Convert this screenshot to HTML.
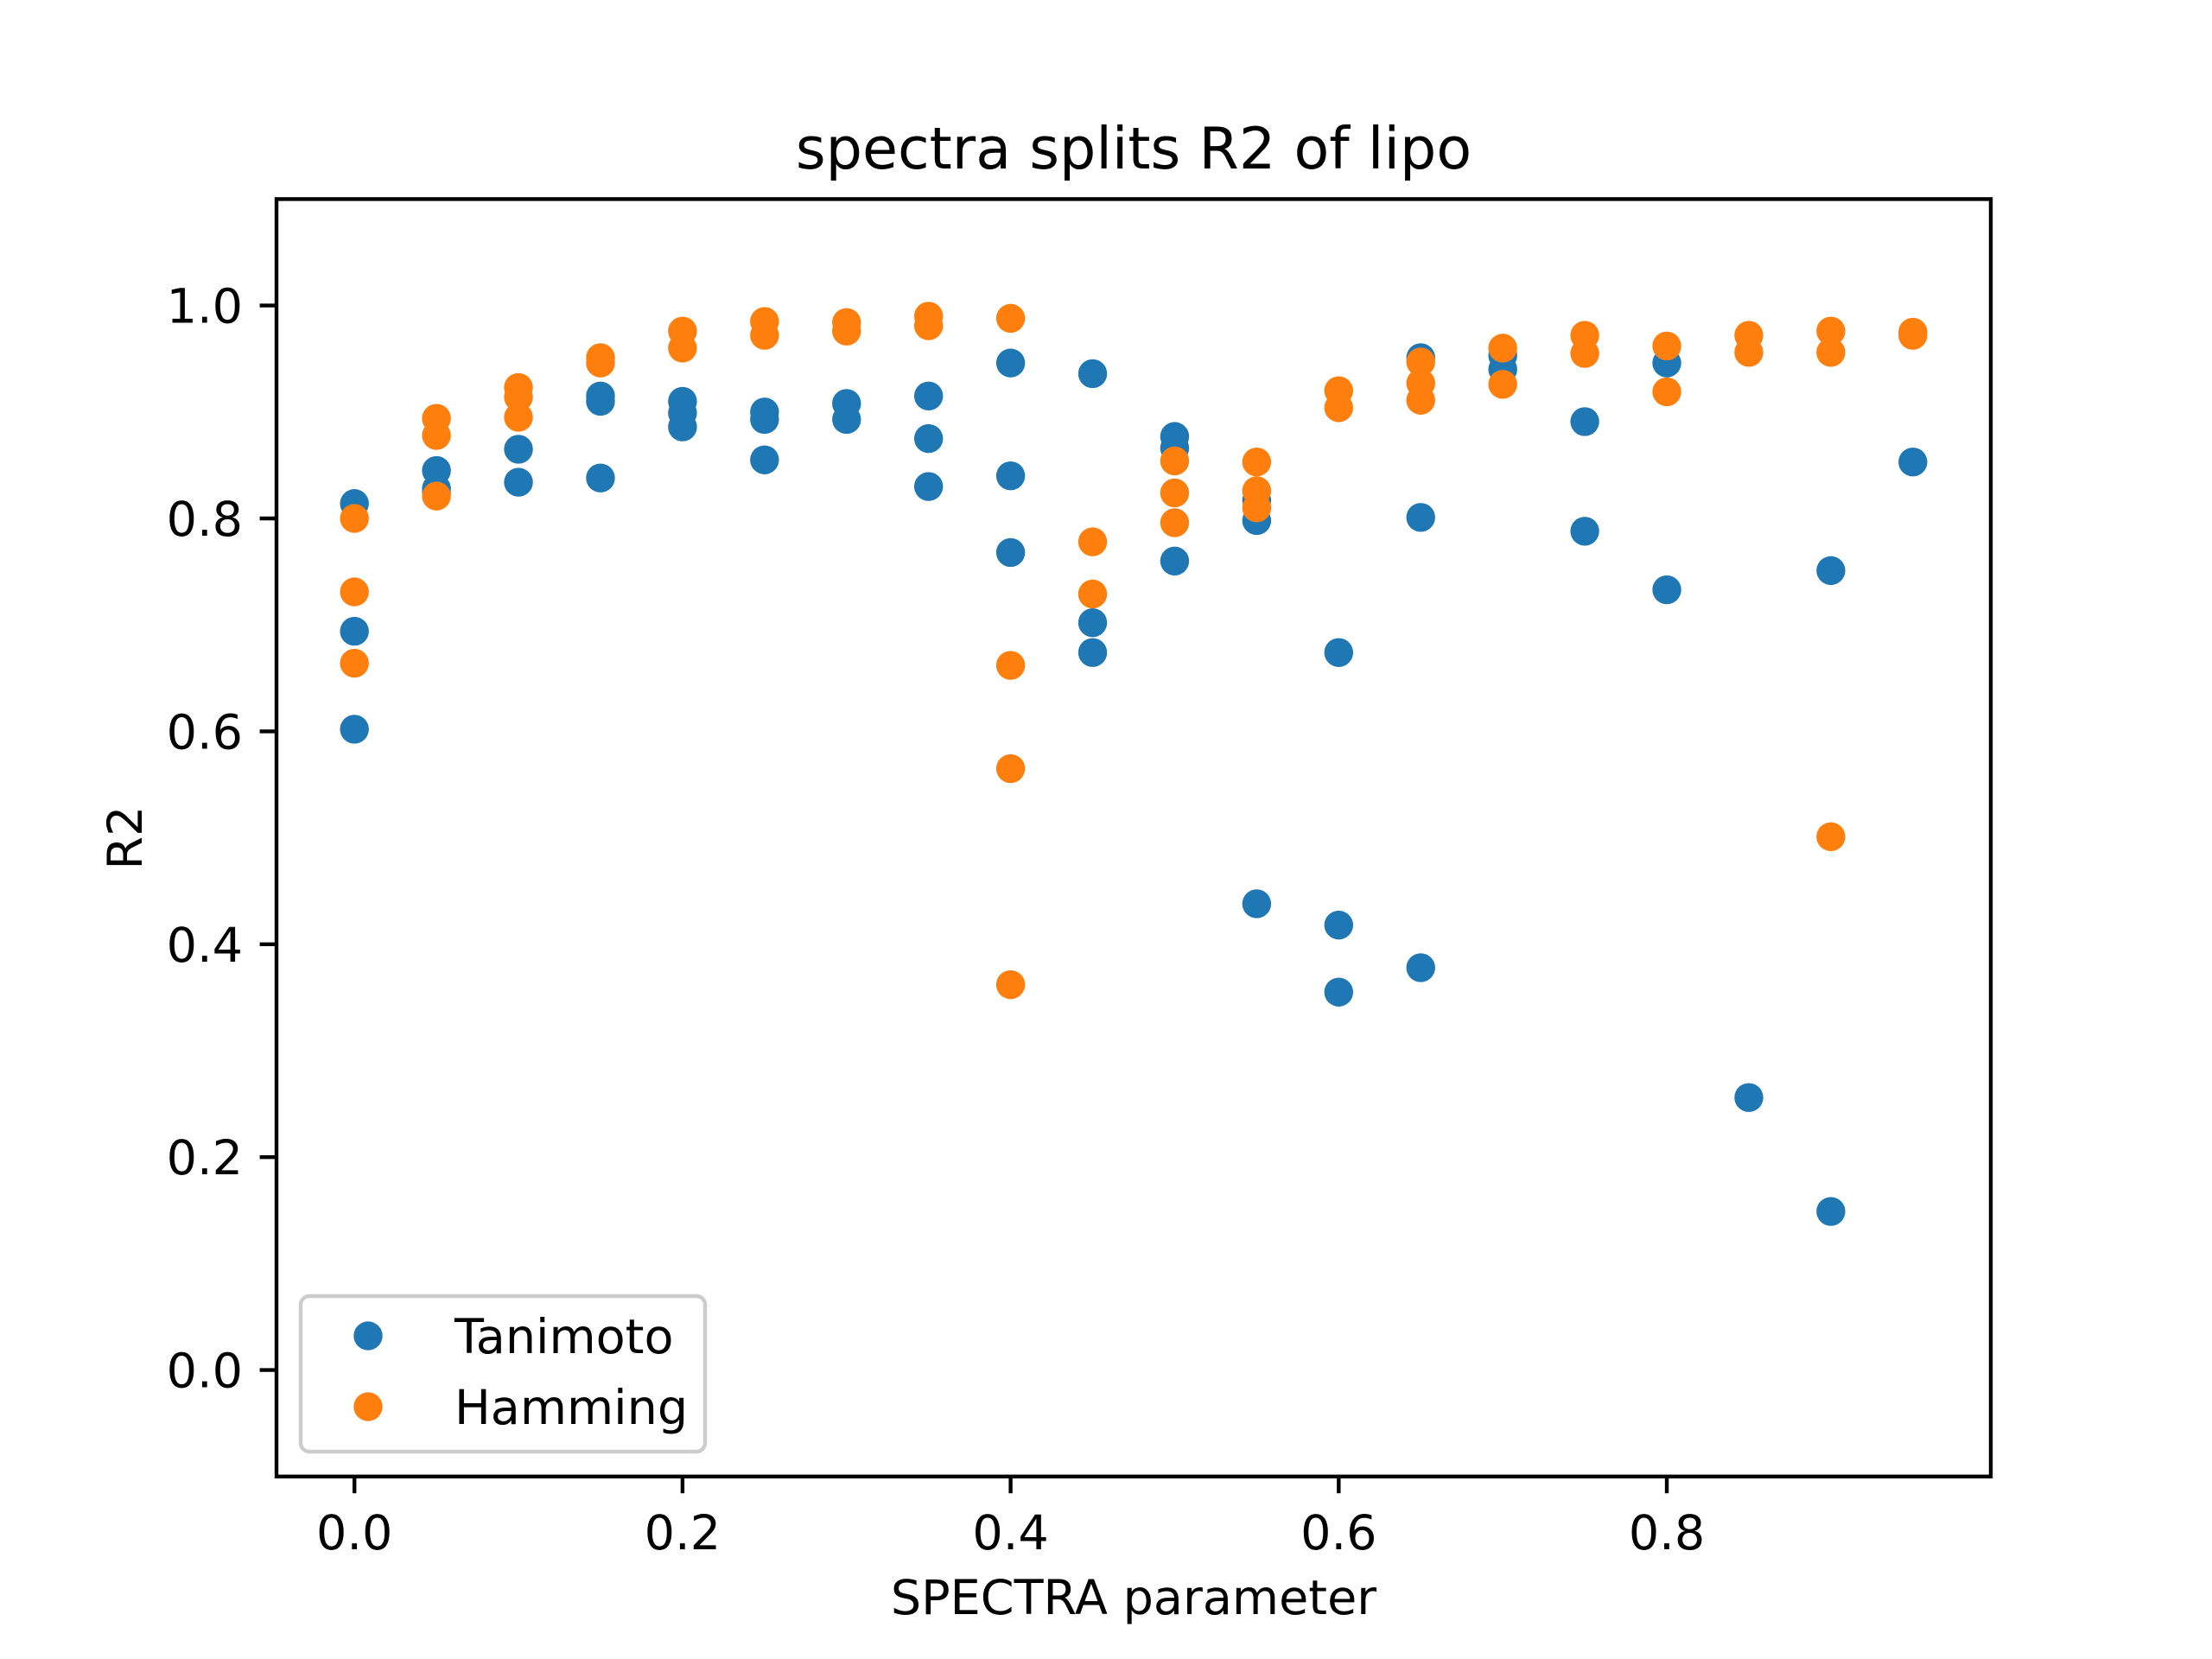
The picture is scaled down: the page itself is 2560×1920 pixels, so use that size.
<!DOCTYPE html>
<html><head><meta charset="utf-8"><style>
html,body{margin:0;padding:0;background:#fff}
svg{display:block;font-family:"DejaVu Sans","Liberation Sans",sans-serif}
</style></head><body>
<svg id="chart" width="2560" height="1920" viewBox="0 0 2560 1920">
<rect width="2560" height="1920" fill="#fff"/>
<text x="1312" y="195" font-size="66.7" text-anchor="middle" fill="#000">spectra splits R2 of lipo</text>
<g id="xt"></g>
<g id="yt"></g>
<g id="pts"></g>
<rect x="320" y="230.4" width="1984" height="1478.4" fill="none" stroke="#000" stroke-width="4.4"/>
<text x="1312" y="1868" font-size="55.6" text-anchor="middle">SPECTRA parameter</text>
<text x="0" y="0" font-size="55.6" text-anchor="middle" transform="translate(164,969.6) rotate(-90)">R2</text>
<g>
<rect x="348" y="1500" width="468" height="180" rx="10" fill="#fff" fill-opacity="0.8" stroke="#ccc" stroke-width="4.4"/>
<circle cx="426" cy="1546" r="16.7" fill="#1f77b4"/>
<text x="526" y="1566" font-size="55.6">Tanimoto</text>
<circle cx="426" cy="1628" r="16.7" fill="#ff7f0e"/>
<text x="526" y="1648" font-size="55.6">Hamming</text>
</g>
</svg>
<script>
const tanX=[0,0,0,0.05,0.05,0.05,0.1,0.1,0.15,0.15,0.15,0.2,0.2,0.2,0.25,0.25,0.25,0.3,0.3,0.35,0.35,0.35,0.4,0.4,0.4,0.45,0.45,0.45,0.5,0.5,0.5,0.55,0.55,0.55,0.6,0.6,0.6,0.65,0.65,0.65,0.7,0.7,0.75,0.75,0.8,0.8,0.85,0.9,0.9,0.95];
const tanY=[0.814,0.694,0.602,0.845,0.828,0.824,0.865,0.834,0.915,0.91,0.838,0.91,0.899,0.886,0.90,0.893,0.855,0.908,0.893,0.915,0.875,0.83,0.946,0.84,0.768,0.936,0.702,0.674,0.877,0.866,0.76,0.817,0.798,0.438,0.674,0.418,0.355,0.951,0.801,0.378,0.94,0.953,0.891,0.788,0.946,0.733,0.256,0.751,0.149,0.853];
const hamX=[0,0,0,0.05,0.05,0.05,0.1,0.1,0.1,0.15,0.15,0.2,0.2,0.25,0.25,0.3,0.3,0.35,0.35,0.4,0.4,0.4,0.4,0.45,0.45,0.5,0.5,0.5,0.55,0.55,0.55,0.6,0.6,0.65,0.65,0.65,0.7,0.7,0.75,0.75,0.8,0.8,0.85,0.85,0.9,0.9,0.9,0.95,0.95];
const hamY=[0.80,0.731,0.664,0.894,0.878,0.821,0.923,0.914,0.895,0.951,0.946,0.976,0.96,0.985,0.972,0.984,0.976,0.99,0.981,0.988,0.662,0.565,0.362,0.778,0.729,0.854,0.824,0.796,0.853,0.826,0.81,0.92,0.904,0.947,0.927,0.911,0.96,0.926,0.972,0.955,0.962,0.919,0.972,0.956,0.976,0.956,0.501,0.975,0.972];
const xTicks=[0,0.2,0.4,0.6,0.8];
const xTickLabels=["0.0","0.2","0.4","0.6","0.8"];
const yTicks=[0,0.2,0.4,0.6,0.8,1.0];
const yTickLabels=["0.0","0.2","0.4","0.6","0.8","1.0"];
const NS="http://www.w3.org/2000/svg";
const L=320,R=2304,T=230.4,B=1708.8,x0=-0.0475,x1=0.9975,y0=-0.1,y1=1.1;
const sx=v=>L+(v-x0)/(x1-x0)*(R-L);
const sy=v=>B-(v-y0)/(y1-y0)*(B-T);
function mk(tag,attrs,parent){const e=document.createElementNS(NS,tag);for(const k in attrs)e.setAttribute(k,attrs[k]);parent.appendChild(e);return e;}
const xt=document.getElementById('xt'),yt=document.getElementById('yt'),pts=document.getElementById('pts');
xTicks.forEach((v,i)=>{
 const l=mk('line',{x1:sx(v),x2:sx(v),y1:B,y2:B+19.4,stroke:'#000','stroke-width':4.4},xt);
 
 
 const t=mk('text',{x:sx(v),y:B+84,'font-size':55.6,'text-anchor':'middle'},xt);
 t.textContent=xTickLabels[i];
 
 
});
yTicks.forEach((v,i)=>{
 const l=mk('line',{x1:L-19.4,x2:L,y1:sy(v),y2:sy(v),stroke:'#000','stroke-width':4.4},yt);
 
 
 const t=mk('text',{x:L-39,y:sy(v)+20,'font-size':55.6,'text-anchor':'end'},yt);
 t.textContent=yTickLabels[i];
 
 
});
tanX.forEach((v,i)=>{
 const c=mk('circle',{cx:sx(v),cy:sy(tanY[i]),r:16.7,fill:'#1f77b4'},pts);
 
 
});
hamX.forEach((v,i)=>{
 const c=mk('circle',{cx:sx(v),cy:sy(hamY[i]),r:16.7,fill:'#ff7f0e'},pts);
 
 
});
</script>
</body></html>
